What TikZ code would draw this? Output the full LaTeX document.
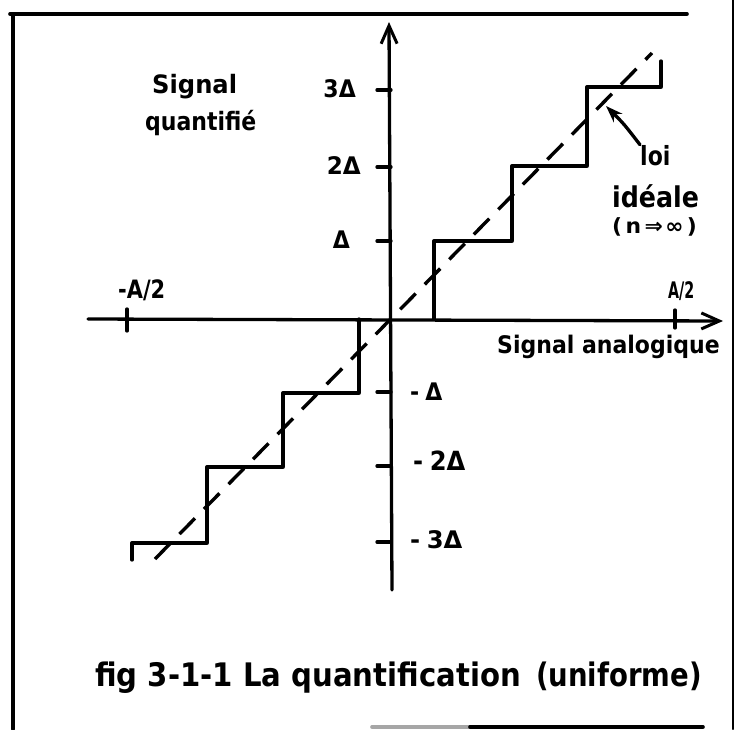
\documentclass[tikz,border=0pt]{standalone}
\usepackage{fontspec}
\usepackage{graphicx}
\setmainfont{DejaVu Sans}
\usetikzlibrary{arrows.meta}
% handwritten-looking text: horizontal scale, vertical scale, text
\newcommand\hw[3]{\scalebox{#1}[#2]{\bfseries #3}}
\begin{document}
\begin{tikzpicture}[x=1pt,y=-1pt, line cap=round, line join=round,
  ink/.style={line width=3.3pt},
  framel/.style={line width=3.6pt},
  axisarrow/.style={ink,-{Straight Barb[length=18pt,width=16pt,line width=3pt]}},
  idealarrow/.style={ink,-{Stealth[length=17pt,width=12pt]}},
  dashline/.style={line width=3.4pt, line cap=butt, dash pattern=on 22pt off 13pt},
  lbl/.style={inner sep=0pt, font=\fontsize{22}{24}\selectfont},
  smalllbl/.style={inner sep=0pt, font=\fontsize{19}{21}\selectfont},
  captxt/.style={inner sep=0pt, font=\fontsize{27}{29}\selectfont}]
\useasboundingbox (0,0) rectangle (737,729);
% frame of the scanned page
\draw[framel] (10,14) -- (687,14);
\draw[framel] (13,14) -- (13,729);
\draw[line width=2.2pt] (733,0) -- (733,729);
\draw[framel, black!35] (372,727) -- (470,727);
\draw[framel] (470,727) -- (703,727);
% axes
\coordinate (O) at (391,319);
\coordinate (xs) at (88,319);
\coordinate (xe) at (723,321);
\coordinate (ys) at (392,590);
\coordinate (ye) at (389,22);
\draw[axisarrow] (xs) -- (xe);
\draw[axisarrow] (ys) -- (ye);
% ticks on the x axis
\draw[ink] (127,309) -- (127,331);
\draw[ink] (675,310) -- (675,328);
% ticks on the y axis
\foreach \yy in {90,167,241,392,466,542} \draw[ink] (377,\yy) -- (391,\yy);
% staircase
\draw[ink] (132,560) -- (132,543) -- (207,543) -- (207,467) -- (283,467) -- (283,393) -- (359,393) -- (359,319);
\draw[ink] (434,319) -- (434,241) -- (512,241) -- (512,166) -- (587,166) -- (587,87) -- (661,87) -- (661,61);
% ideal law
\coordinate (d1) at (155,559);
\coordinate (d2) at (652,53);
\draw[dashline] (d1) -- (d2);
% labels
\node[lbl, anchor=base west] (sq1) at (152,93) {\hw{1.1}{1.15}{Signal}};
\node[lbl, anchor=base west] (sq2) at (145,130) {\hw{1.0}{1.15}{quantifié}};
\node[lbl, anchor=base east] (t3) at (356,97) {\hw{1.0}{1.1}{3Δ}};
\node[lbl, anchor=base east] (t2) at (361,174) {\hw{1.05}{1.1}{2Δ}};
\node[lbl, anchor=base east] (t1) at (350,248) {\hw{1.0}{1.1}{Δ}};
\node[lbl, anchor=base west] (mA) at (118,298) {\hw{0.95}{1.15}{-A/2}};
\node[smalllbl, anchor=base west] (pA) at (668,298) {\hw{0.75}{1.2}{A/2}};
\node[lbl, anchor=base west] (sa) at (497,353) {\hw{1.0}{1.1}{Signal analogique}};
\node[lbl, anchor=base west] (m1) at (410,400) {\hw{1.0}{1.1}{-\hspace{6pt}Δ}};
\node[lbl, anchor=base west] (m2) at (413,470) {\hw{1.1}{1.2}{-\hspace{6pt}2Δ}};
\node[lbl, anchor=base west] (m3) at (410,548) {\hw{1.1}{1.1}{-\hspace{6pt}3Δ}};
\node[lbl, anchor=base west] (loi) at (640,165) {\hw{1.0}{1.2}{loi}};
\node[lbl, anchor=base west] (ideale) at (612,207) {\hw{1.15}{1.3}{idéale}};
\node[smalllbl, anchor=base west] (ninf) at (612,233) {\hw{1.15}{1.1}{(\hspace{3pt}n\hspace{3pt}⇒\hspace{2pt}∞\hspace{3pt})}};
\coordinate (tip) at (606,106);
\draw[idealarrow] (loi.north west) .. controls (624,124) .. (tip);
% caption
\node[captxt, anchor=base west] (c1) at (95,686) {\hw{1.08}{1.2}{fig 3-1-1 La quantification}};
\node[captxt, anchor=base east] (c2) at (702,686) {\hw{1.02}{1.2}{(uniforme)}};
\end{tikzpicture}
\end{document}
